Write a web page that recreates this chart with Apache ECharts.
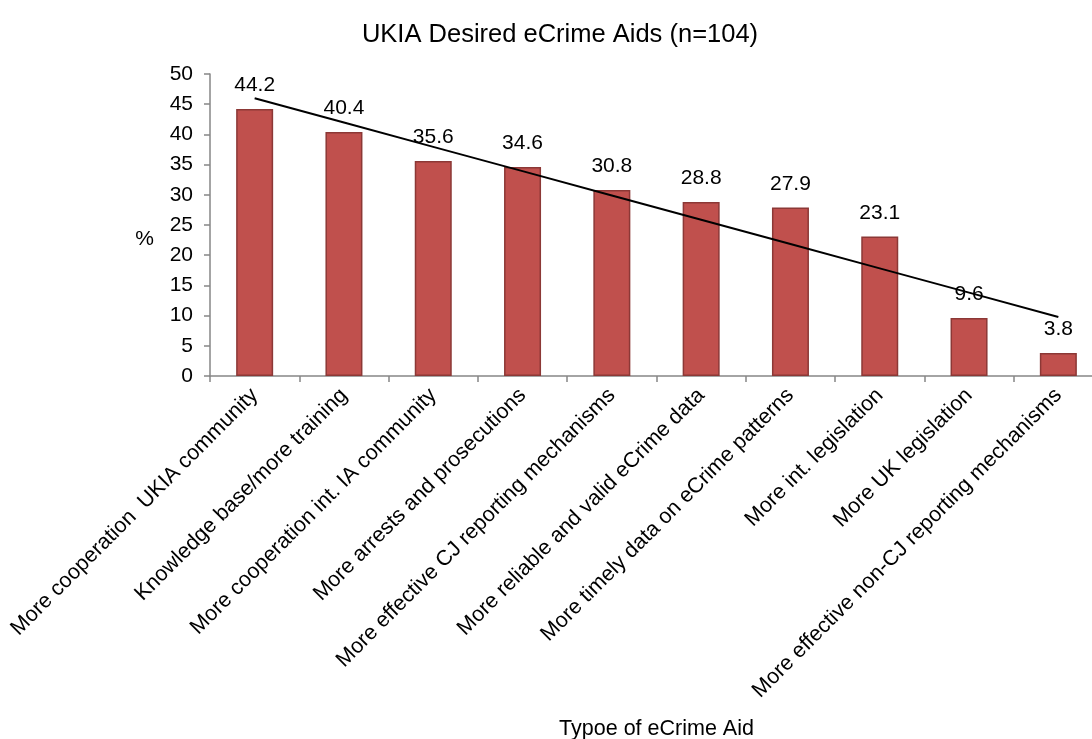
<!DOCTYPE html>
<html>
<head>
<meta charset="utf-8">
<script src="https://cdn.jsdelivr.net/npm/echarts@6/dist/echarts.min.js"></script>
<style>
  html, body { margin: 0; padding: 0; background: #ffffff; }
  #chart { width: 1092px; height: 739px; }
</style>
</head>
<body>
<div id="chart"></div>
<script>
// Desired eCrime aids, share of respondents (%)
const categories = [
  'More cooperation  UKIA community',
  'Knowledge base/more training',
  'More cooperation int. IA community',
  'More arrests and prosecutions',
  'More effective CJ reporting mechanisms',
  'More reliable and valid eCrime data',
  'More timely data on eCrime patterns',
  'More int. legislation',
  'More UK legislation',
  'More effective non-CJ reporting mechanisms'
];
const percentages = [44.2, 40.4, 35.6, 34.6, 30.8, 28.8, 27.9, 23.1, 9.6, 3.8];
const yTicks = { min: 0, max: 50, interval: 5 };

// Least-squares linear trendline through the bar values
function linearTrend(values) {
  const n = values.length;
  let sx = 0, sy = 0, sxy = 0, sxx = 0;
  values.forEach((v, i) => {
    const x = i + 1;
    sx += x; sy += v; sxy += x * v; sxx += x * x;
  });
  const slope = (n * sxy - sx * sy) / (n * sxx - sx * sx);
  const intercept = (sy - slope * sx) / n;
  return values.map((_, i) => +(intercept + slope * (i + 1)).toFixed(3));
}
const trend = linearTrend(percentages);

const font = 'Liberation Sans, Arial, sans-serif';
const chart = echarts.init(document.getElementById('chart'), null, { renderer: 'canvas' });

chart.setOption({
  backgroundColor: '#ffffff',
  animation: false,
  title: {
    text: 'UKIA Desired eCrime Aids (n=104)',
    left: 555,
    top: 17,
    textAlign: 'center',
    textStyle: { fontFamily: font, fontSize: 25.5, fontWeight: 'normal', color: '#000000' }
  },
  grid: { left: 210, top: 74, right: -11, bottom: 363, containLabel: false, outerBoundsMode: 'none' },
  xAxis: {
    type: 'category',
    data: categories,
    name: 'Typoe of eCrime Aid',
    nameLocation: 'middle',
    nameGap: 342,
    nameTextStyle: { fontFamily: font, fontSize: 21.5, color: '#000000' },
    axisLine: { lineStyle: { color: '#868686', width: 1.5 } },
    axisTick: { show: true, length: 6, lineStyle: { color: '#868686', width: 1.5 } },
    axisLabel: {
      interval: 0,
      rotate: 45,
      margin: 16,
      fontFamily: font,
      fontSize: 21.5,
      color: '#000000'
    }
  },
  yAxis: {
    type: 'value',
    min: yTicks.min,
    max: yTicks.max,
    interval: yTicks.interval,
    name: '%',
    nameLocation: 'middle',
    nameRotate: 0,
    nameGap: 56,
    nameTextStyle: { fontFamily: font, fontSize: 21, color: '#000000', verticalAlign: 'top', padding: [4, 0, 0, 0] },
    axisLine: { show: true, lineStyle: { color: '#868686', width: 1.5 } },
    axisTick: { show: true, length: 6, lineStyle: { color: '#868686', width: 1.5 } },
    axisLabel: { margin: 17, fontFamily: font, fontSize: 21, color: '#000000' },
    splitLine: { show: false }
  },
  series: [
    {
      name: 'Desired eCrime aid',
      type: 'bar',
      data: percentages,
      barWidth: 37,
      itemStyle: { color: '#C0504D', borderColor: '#8C3836', borderWidth: 1.5 },
      label: {
        show: true,
        position: 'top',
        distance: 13,
        fontFamily: font,
        fontSize: 21,
        color: '#000000'
      },
      z: 2
    },
    {
      name: 'Linear trend',
      type: 'line',
      data: trend,
      showSymbol: false,
      symbol: 'none',
      lineStyle: { color: '#000000', width: 2 },
      silent: true,
      z: 5
    }
  ]
});
</script>
</body>
</html>
